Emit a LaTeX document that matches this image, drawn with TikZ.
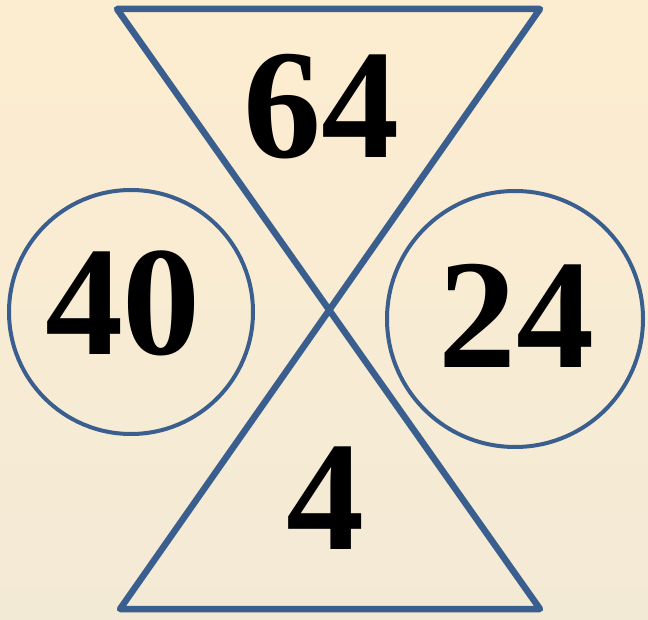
\documentclass[tikz,border=0pt]{standalone}
\usepackage{fontspec}
\setmainfont{Liberation Serif}
\definecolor{bgtop}{RGB}{253,237,208}
\definecolor{bgbot}{RGB}{243,234,214}
\definecolor{linec}{RGB}{58,95,142}
\begin{document}
\begin{tikzpicture}[x=1pt,y=1pt,
  num/.style={font=\fontsize{156}{156}\selectfont\bfseries, inner sep=0pt, anchor=base, text=black},
  ring/.style={circle, draw=linec, line width=4pt, inner sep=0pt}]
\shade[top color=bgtop, bottom color=bgbot] (0,0) rectangle (648,619);
\useasboundingbox (0,0) rectangle (648,619);
\coordinate (tl) at (117,610);
\coordinate (tr) at (540,610);
\coordinate (bl) at (120,10);
\coordinate (br) at (540,10);
\draw[linec, line width=6.5pt, line join=round, line cap=round] (tl) -- (tr) -- (bl) -- (br) -- cycle;
\node[ring, minimum size=244pt] (c1) at (131,307) {};
\node[ring, minimum size=256pt] (c2) at (515,300) {};
\node[num] (n64) at (321,461) {64};
\node[num] (n40) at (123,264) {40};
\node[num] (n24) at (516,251) {24};
\node[num] (n4) at (325,70) {4};
\end{tikzpicture}
\end{document}
